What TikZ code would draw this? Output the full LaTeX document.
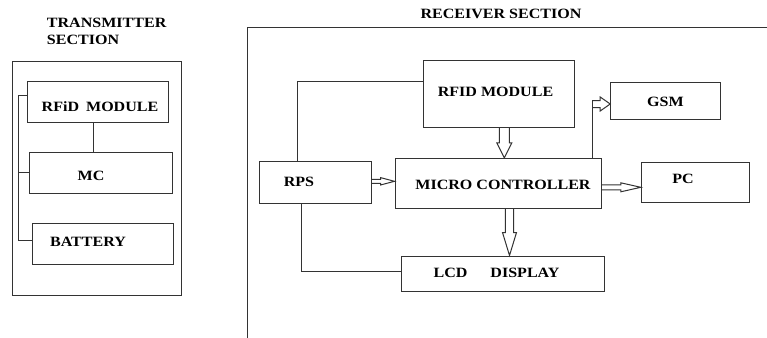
\documentclass[tikz,border=0pt]{standalone}
\usepackage{fontspec}
\newfontfamily\lab{Liberation Serif}[FakeStretch=1.13]
\usetikzlibrary{calc}
\tikzset{
  box/.style={draw=black!80, line width=1pt, inner sep=0pt, minimum width=#1},
  conn/.style={draw=black!80, line width=1pt},
  lbl/.style={font=\lab\bfseries\fontsize{14.2}{16.6}\selectfont, inner sep=0pt, anchor=base, text=black},
}
\newcommand\varrowblk[5]{%
  \draw[conn] let \p1=(#1), \p2=(#2) in
    (\x1-#3pt,\y1) -- (\x1-#3pt,\y2+#5pt) -- (\x1-#4pt,\y2+#5pt) -- (\x1,\y2)
    -- (\x1+#4pt,\y2+#5pt) -- (\x1+#3pt,\y2+#5pt) -- (\x1+#3pt,\y1);}
\newcommand\harrowblk[5]{%
  \draw[conn] let \p1=(#1), \p2=(#2) in
    (\x1,\y1+#3pt) -- (\x2-#5pt,\y1+#3pt) -- (\x2-#5pt,\y1+#4pt) -- (\x2,\y1)
    -- (\x2-#5pt,\y1-#4pt) -- (\x2-#5pt,\y1-#3pt) -- (\x1,\y1-#3pt);}
\begin{document}
\begin{tikzpicture}[x=1pt,y=-1pt]
\useasboundingbox[fill=white] (0,0) rectangle (767,337);

% ---------- transmitter ----------
\node[lbl, anchor=base west] (th1) at (46.7,27.7) {TRANSMITTER};
\node[lbl, anchor=base west] (th2) at (46.7,44.3) {SECTION};
\node[box=169.7pt, minimum height=234.7pt] (tframe) at (96.85,178.35) {};
\node[box=141pt, minimum height=41.7pt] (trfid) at (97.8,101.85) {};
\node[box=143pt, minimum height=41pt] (tmc) at (100.8,172.8) {};
\node[box=141pt, minimum height=41pt] (tbat) at (102.8,243.5) {};
\node[lbl] (trfidT) at (100,111.5) {RFiD\hspace{7pt}MODULE};
\node[lbl] (tmcT) at (91,180.5) {MC};
\node[lbl] (tbatT) at (88,246.5) {BATTERY};
\coordinate (busTop) at (18.3,95);
\coordinate (busBot) at (18.3,240);
\draw[conn] (trfid.west |- busTop) -- (busTop) -- (busBot) -- (tbat.west |- busBot);
\draw[conn] (tmc.west) -- (tmc.west -| busTop);
\draw[conn] (trfid.south -| 93,0) -- (tmc.north -| 93,0);

% ---------- receiver ----------
\node[lbl] (rh) at (501,19) {RECEIVER SECTION};
\coordinate (rfTL) at (247,28);
\draw[conn] (247,340) -- (rfTL) -- (770,28);
\node[box=151pt, minimum height=66.3pt] (rfid) at (498.5,93.85) {};
\node[box=206pt, minimum height=50pt] (mc) at (498,183.3) {};
\node[box=112.7pt, minimum height=42.4pt] (rps) at (315.35,182.5) {};
\node[box=203.3pt, minimum height=35pt] (lcd) at (502.65,273.5) {};
\node[box=109.6pt, minimum height=36.7pt] (gsm) at (665.5,100.65) {};
\node[box=108pt, minimum height=39.6pt] (pc) at (695.3,182.5) {};
\node[lbl] (rfidT) at (495.5,96.5) {RFID MODULE};
\node[lbl] (mcT) at (503,189) {MICRO CONTROLLER};
\node[lbl] (rpsT) at (299,186) {RPS};
\node[lbl] (lcdT) at (496.5,277.5) {LCD\hspace{23pt}DISPLAY};
\node[lbl] (gsmT) at (665.5,106) {GSM};
\node[lbl] (pcT) at (683,183) {PC};

% plain connectors
\draw[conn] (rfid.west |- 0,81) -| (rps.north -| 297,0);
\draw[conn] (rps.south -| 301,0) |- (lcd.west |- 0,271);
\draw[conn] (mc.north -| 592,0) -- (592,100.5);

% block arrows
\varrowblk{rfid.south -| 504.3,0}{mc.north -| 504.3,0}{5}{7.5}{15}
\varrowblk{mc.south -| 509.5,0}{lcd.north -| 509.5,0}{4.2}{7}{23}
\harrowblk{rps.east |- 0,181.3}{mc.west |- 0,181.3}{2}{3.7}{14}
\harrowblk{mc.east |- 0,187.3}{pc.west |- 0,187.3}{2.5}{4.5}{20}
\harrowblk{592,104}{gsm.west |- 0,104}{3.5}{7}{10}
\end{tikzpicture}
\end{document}
